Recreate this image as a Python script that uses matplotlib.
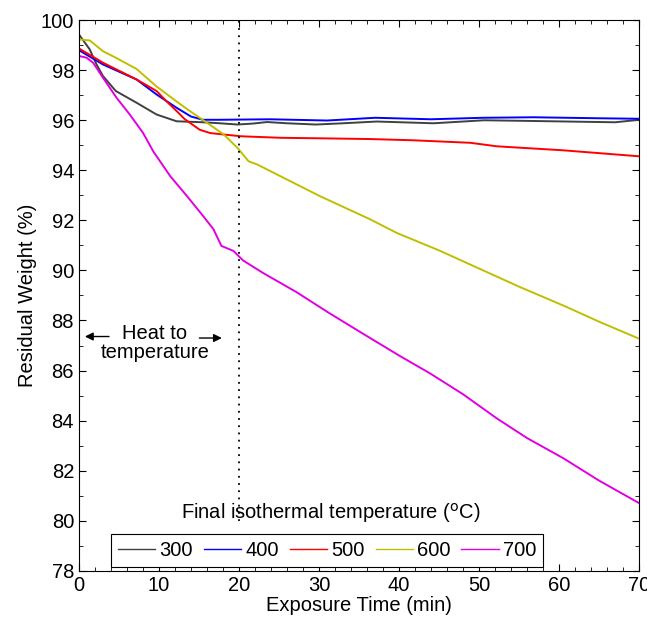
import matplotlib
matplotlib.use('Agg')
import matplotlib.pyplot as plt
from matplotlib.ticker import MultipleLocator

plt.rcParams['font.family'] = ['Liberation Sans', 'DejaVu Sans']

# exposure time (min) and residual weight (%)
t300 = [0, 1.35, 2.2, 3, 4.6, 7.2, 9.7, 12.2, 15.5, 17.6, 19.8, 21.8, 23.5, 26, 29.6, 33, 37.2, 44.3, 50.6, 55, 61, 67, 70]
w300 = [99.43, 98.83, 98.23, 97.77, 97.17, 96.7, 96.23, 95.96, 95.92, 95.88, 95.83, 95.87, 95.93, 95.88, 95.83, 95.88, 95.95, 95.88, 96.0, 95.98, 95.95, 95.92, 96.02]

t400 = [0, 3, 7.2, 9.7, 12.2, 14, 15.5, 17.6, 23.9, 31, 37, 44, 50.5, 56.8, 65, 70]
w400 = [98.8, 98.23, 97.63, 97.03, 96.5, 96.15, 96.02, 96.02, 96.04, 95.99, 96.1, 96.04, 96.1, 96.12, 96.08, 96.06]

t500 = [0, 3, 7.2, 9.7, 10.9, 12.2, 13.2, 14.3, 15.1, 16.4, 18.1, 20.3, 25.2, 30, 36.4, 41.8, 48.9, 52.2, 60.5, 70]
w500 = [98.87, 98.3, 97.63, 97.17, 96.77, 96.37, 96.05, 95.8, 95.62, 95.49, 95.43, 95.36, 95.3, 95.28, 95.25, 95.2, 95.1, 94.96, 94.8, 94.56]

t600 = [0, 1.35, 3, 4.6, 7.2, 9.7, 12.2, 13.9, 16, 18.1, 19.8, 21.2, 22.3, 25.2, 30.1, 36.4, 39.7, 45, 50.1, 55, 60.5, 65, 70]
w600 = [99.23, 99.19, 98.76, 98.5, 98.05, 97.35, 96.75, 96.36, 95.9, 95.43, 94.9, 94.36, 94.23, 93.76, 92.97, 92.04, 91.5, 90.8, 90.06, 89.35, 88.6, 87.95, 87.27]

t700 = [0, 0.95, 1.77, 3, 4.7, 6.35, 8, 9.3, 11.4, 13.5, 15.5, 16.8, 17.8, 19.3, 20.5, 23, 27.2, 31, 35.5, 40, 43.9, 48, 52.2, 56, 60.5, 65, 70]
w700 = [98.57, 98.5, 98.3, 97.7, 96.9, 96.23, 95.5, 94.75, 93.77, 92.97, 92.18, 91.65, 90.98, 90.78, 90.4, 89.9, 89.13, 88.35, 87.47, 86.6, 85.88, 85.05, 84.09, 83.3, 82.5, 81.6, 80.7]

series = [('300', t300, w300, '#404040'),
          ('400', t400, w400, '#0000ff'),
          ('500', t500, w500, '#ff0000'),
          ('600', t600, w600, '#bfbf00'),
          ('700', t700, w700, '#e000e0')]

fig = plt.figure(figsize=(6.47, 6.3), dpi=100)
ax = fig.add_axes([0.122, 0.094, 0.866, 0.874])

for name, t, w, c in series:
    ax.plot(t, w, color=c, lw=1.4, label=name, solid_joinstyle='round')

ax.plot([20, 20], [80, 100], color='black', ls=(0, (1, 3)), lw=1.3)

ax.set_xlim(0, 70)
ax.set_ylim(78, 100)
ax.xaxis.set_major_locator(MultipleLocator(10))
ax.xaxis.set_minor_locator(MultipleLocator(2))
ax.yaxis.set_major_locator(MultipleLocator(2))
ax.yaxis.set_minor_locator(MultipleLocator(1))
ax.tick_params(which='both', direction='in', top=True, right=True, labelsize=14.5)
ax.tick_params(which='major', length=5)
ax.tick_params(which='minor', length=3)
ax.set_xlabel('Exposure Time (min)', fontsize=14.5, labelpad=1)
ax.set_ylabel('Residual Weight (%)', fontsize=14.5, labelpad=3)

# heat-up annotation
ax.text(9.5, 87.1, 'Heat to\ntemperature', ha='center', va='center', fontsize=14.5, linespacing=1.0)
ax.annotate('', xy=(0.4, 87.36), xytext=(4.1, 87.36),
            arrowprops=dict(arrowstyle='-|>', color='black', lw=1.0, mutation_scale=12))
ax.annotate('', xy=(18.2, 87.3), xytext=(14.7, 87.3),
            arrowprops=dict(arrowstyle='-|>', color='black', lw=1.0, mutation_scale=12))

leg = ax.legend(loc='lower center', bbox_to_anchor=(0.443, 0.006), ncol=5, fontsize=14.5,
                frameon=True, fancybox=False, edgecolor='black', framealpha=1,
                handlelength=1.85, handletextpad=0.2, columnspacing=0.55, borderpad=0.35,
                borderaxespad=0.0)
leg.get_frame().set_linewidth(0.8)
for line in leg.get_lines():
    line.set_linewidth(1.0)
ax.text(0.45, 0.105, r'Final isothermal temperature ($^{\rm o}$C)', transform=ax.transAxes,
        ha='center', va='center', fontsize=14.5)

fig.savefig('out.png', dpi=100)
